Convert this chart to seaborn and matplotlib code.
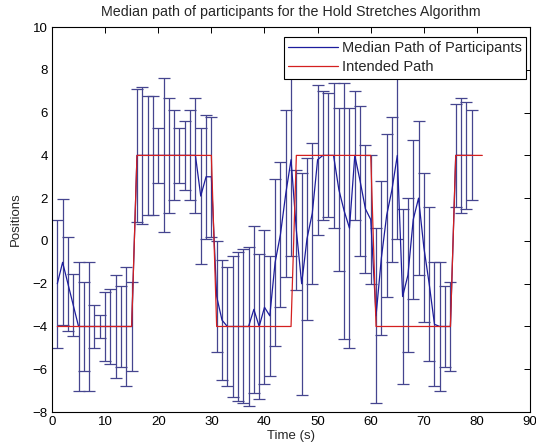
import numpy as np
import pandas as pd
import matplotlib
matplotlib.use("Agg")
import matplotlib.pyplot as plt
import seaborn as sns

# ---- data ----
time_s = list(range(1, 80))
median_pos = [-2.0, -1.0, -2.0, -3.0, -4.0, -4.0, -4.0, -4.0, -4.0, -4.0,
              -4.0, -4.0, -4.0, -4.0, -4.0, 4.0, 4.0, 4.0, 4.0, 4.0,
              4.0, 4.0, 4.0, 4.0, 4.0, 4.0, 4.0, 2.1, 3.0, 3.0,
              -2.6, -3.7, -4.0, -4.0, -4.0, -4.0, -4.0, -3.2, -4.0, -3.1,
              -3.5, -1.0, 0.3, 2.2, 3.8, 0.5, -2.0, 0.1, 1.3, 3.8,
              4.0, 4.0, 4.0, 2.4, 1.4, 0.6, 4.0, 2.8, 1.5, 1.0,
              -3.5, -0.8, 1.2, 2.4, 4.0, -2.6, -1.6, 1.0, 2.0, -0.3,
              -2.0, -3.9, -4.0, -4.0, -4.0, 4.0, 4.0, 4.0, 4.0]
err_pos = [3.0, 2.95, 2.2, 1.45, 3.0, 2.1, 3.0, 1.0, 0.55, 1.6,
           1.75, 2.4, 1.9, 2.8, 2.1, 3.1, 3.2, 2.8, 2.8, 1.3,
           3.6, 2.7, 2.1, 1.3, 1.6, 2.1, 2.7, 3.2, 2.9, 2.8,
           2.6, 2.8, 2.8, 3.3, 3.5, 3.6, 3.7, 3.9, 3.4, 3.6,
           2.8, 3.9, 3.4, 3.9, 4.5, 2.8, 5.2, 3.8, 3.3, 3.5,
           3.0, 2.9, 3.4, 3.8, 6.0, 5.6, 3.0, 3.5, 3.0, 3.0,
           4.1, 3.6, 3.8, 3.4, 3.9, 4.1, 3.6, 3.7, 3.6, 3.5,
           3.6, 2.9, 3.0, 1.9, 2.1, 2.4, 2.7, 2.5, 2.1]

intended_t = list(range(1, 82))
intended_pos = ([-4] * 15 + [4] * 15 + [-4] * 15 + [4] * 15 + [-4] * 15 + [4] * 6)

xticks = list(range(0, 91, 10))
yticks = list(range(-8, 11, 2))

title = "Median path of participants for the Hold Stretches Algorithm"
xlabel = "Time (s)"
ylabel = "Positions"
legend_labels = ["Median Path of Participants", "Intended Path"]

# ---- plot ----
sns.set_style("white")
plt.rcParams["font.family"] = ["Liberation Sans", "DejaVu Sans"]

fig = plt.figure(figsize=(5.36, 4.44), dpi=100)
ax = fig.add_axes([0.097, 0.072, 0.892, 0.867])

blue = "#1c1c9c"
bar_col = "#45458f"
red = "#d42020"

df_med = pd.DataFrame({"t": time_s, "pos": median_pos, "err": err_pos})
df_int = pd.DataFrame({"t": intended_t, "pos": intended_pos})

ax.errorbar(df_med["t"], df_med["pos"], yerr=df_med["err"], fmt="none",
            ecolor=bar_col, elinewidth=0.9, capsize=4.0, capthick=0.9, zorder=2)
sns.lineplot(data=df_med, x="t", y="pos", ax=ax, color=blue, linewidth=0.9,
             label=legend_labels[0], zorder=3, sort=False)
sns.lineplot(data=df_int, x="t", y="pos", ax=ax, color=red, linewidth=0.9,
             label=legend_labels[1], zorder=4, sort=False)

ax.set_xlim(0, 90)
ax.set_ylim(-8, 10)
ax.set_xticks(xticks)
ax.set_yticks(yticks)
ax.tick_params(direction="in", top=True, right=True, length=4, width=0.7,
               labelsize=9.5, pad=3, colors="black")
for s in ax.spines.values():
    s.set_visible(True)
    s.set_color("black")
    s.set_linewidth(0.8)

ax.set_title(title, fontsize=10.3, pad=8)
ax.set_xlabel(xlabel, fontsize=9.5, labelpad=1)
ax.set_ylabel(ylabel, fontsize=9.5, labelpad=8)

leg = ax.legend(loc="upper right", bbox_to_anchor=(0.992, 0.975),
                fontsize=10.5, frameon=True, fancybox=False,
                edgecolor="black", framealpha=1, handlelength=3.4,
                borderaxespad=0.0, borderpad=0.3, labelspacing=0.35,
                handletextpad=0.3)
leg.get_frame().set_linewidth(0.8)
leg.set_zorder(10)

fig.savefig("out.png", dpi=100, facecolor="white")
